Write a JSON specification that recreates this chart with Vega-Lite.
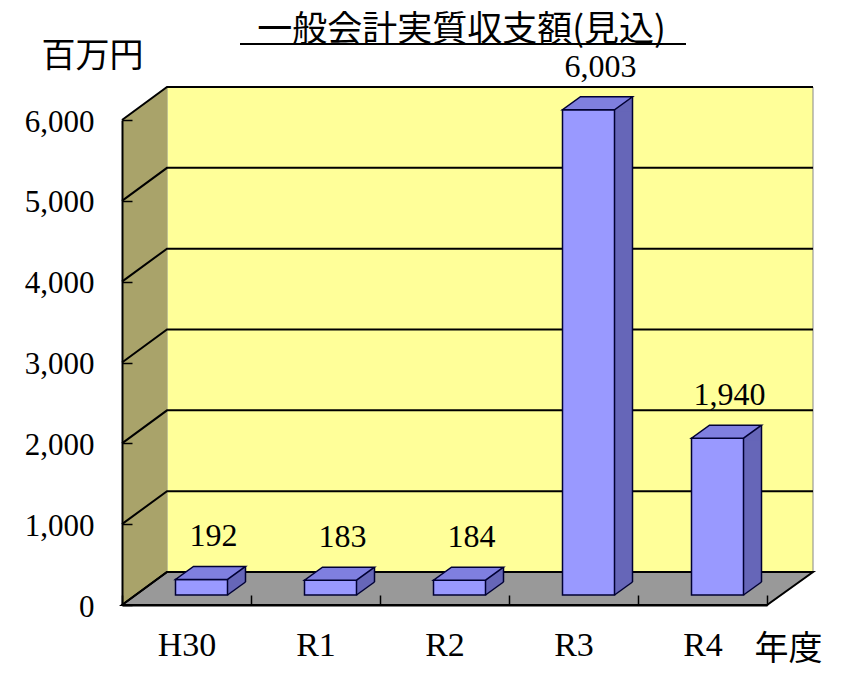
{
  "$schema": "https://vega.github.io/schema/vega-lite/v6.json",
  "autosize": "none",
  "width": 645,
  "height": 485,
  "padding": {"left": 122, "top": 120, "right": 74, "bottom": 68},
  "background": "white",
  "config": {"view": {"stroke": null}},
  "title": {
    "text": "一般会計実質収支額(見込)",
    "font": "Noto Sans CJK JP",
    "fontSize": 35,
    "fontWeight": "normal",
    "color": "black",
    "anchor": "middle",
    "frame": "group",
    "dx": 17,
    "dy": 9,
    "offset": 0
  },
  "datasets": {
    "main": [
      {"year": "H30", "value": 192},
      {"year": "R1", "value": 183},
      {"year": "R2", "value": 184},
      {"year": "R3", "value": 6003},
      {"year": "R4", "value": 1940}
    ],
    "grid": [{"v": 0}, {"v": 1000}, {"v": 2000}, {"v": 3000}, {"v": 4000}, {"v": 5000}, {"v": 6000}],
    "frame": [{"part": "frame"}]
  },
  "layer": [
    {
      "data": {"name": "frame"},
      "mark": {"type": "point", "shape": "M45,-33 L691,-33 L691,-518 L45,-518 Z", "size": 4, "filled": true, "fill": "#FFFF99", "stroke": "#888888", "strokeWidth": 1, "opacity": 1},
      "encoding": {
        "x": {
          "datum": "H30",
          "type": "nominal",
          "bandPosition": 0,
          "scale": {"domain": ["H30", "R1", "R2", "R3", "R4"], "paddingInner": 0, "paddingOuter": 0},
          "axis": {
            "title": "年度",
            "zindex": 1,
            "domainColor": "black",
            "domainWidth": 2,
            "ticks": true,
            "tickBand": "extent",
            "tickSize": -10,
            "tickColor": "black",
            "tickWidth": 1.5,
            "labelAngle": 0,
            "labelFont": "Liberation Serif",
            "labelFontSize": 34,
            "labelColor": "black",
            "labelPadding": 33,
            "labelBaseline": "top",
            "titleFont": "Noto Sans CJK JP",
            "titleFontSize": 34,
            "titleFontWeight": "normal",
            "titleColor": "black",
            "titleX": 666,
            "titleY": 44,
            "titleAlign": "center",
            "titleBaseline": "middle"
          }
        },
        "y": {
          "datum": 0,
          "type": "quantitative",
          "scale": {"domain": [0, 6000], "nice": false},
          "axis": {
            "title": "百万円",
            "zindex": 1,
            "values": [0, 1000, 2000, 3000, 4000, 5000, 6000],
            "format": ",d",
            "grid": false,
            "domainColor": "black",
            "domainWidth": 2,
            "ticks": true,
            "tickSize": -10,
            "tickColor": "black",
            "tickWidth": 1.5,
            "labelFont": "Liberation Serif",
            "labelFontSize": 31,
            "labelColor": "black",
            "labelPadding": 38,
            "labelOffset": 2,
            "titleFont": "Noto Sans CJK JP",
            "titleFontSize": 34,
            "titleFontWeight": "normal",
            "titleColor": "black",
            "titleAngle": 0,
            "titleX": -30,
            "titleY": -64,
            "titleAlign": "center",
            "titleBaseline": "middle"
          }
        }
      }
    },
    {
      "data": {"name": "frame"},
      "mark": {"type": "point", "shape": "M45,-33 L0,0 L0,-485 L45,-518 Z", "size": 4, "filled": true, "fill": "#A9A36A", "strokeWidth": 0, "opacity": 1},
      "encoding": {
        "x": {"datum": "H30", "type": "nominal", "bandPosition": 0},
        "y": {"datum": 0, "type": "quantitative"}
      }
    },
    {
      "data": {"name": "frame"},
      "mark": {"type": "point", "shape": "M0,0 L645,0 L691,-33 L45,-33 Z", "size": 4, "filled": true, "fill": "#999999", "stroke": "black", "strokeWidth": 2, "opacity": 1},
      "encoding": {
        "x": {"datum": "H30", "type": "nominal", "bandPosition": 0},
        "y": {"datum": 0, "type": "quantitative"}
      }
    },
    {
      "data": {"name": "grid"},
      "mark": {"type": "point", "shape": "M0,0 L45,-33 L691,-33", "size": 4, "filled": false, "stroke": "black", "strokeWidth": 2, "opacity": 1},
      "encoding": {
        "x": {"datum": "H30", "type": "nominal", "bandPosition": 0},
        "y": {"field": "v", "type": "quantitative", "title": "百万円"}
      }
    },
    {
      "data": {"name": "main"},
      "mark": {"type": "bar", "width": 18, "xOffset": 50, "yOffset": -10, "y2Offset": -23, "fill": "#6666B8", "strokeWidth": 0},
      "encoding": {
        "x": {"field": "year", "type": "nominal", "title": "年度"},
        "y": {"field": "value", "type": "quantitative", "title": "百万円"},
        "y2": {"datum": 0}
      }
    },
    {
      "data": {"name": "main"},
      "mark": {"type": "point", "shape": "M41,-8 L41,-10 L59,-23 L59,-8 Z", "size": 4, "filled": true, "fill": "#6666B8", "strokeWidth": 0, "opacity": 1},
      "encoding": {
        "x": {"field": "year", "type": "nominal", "title": "年度"},
        "y": {"field": "value", "type": "quantitative", "title": "百万円"}
      }
    },
    {
      "data": {"name": "main"},
      "mark": {"type": "point", "shape": "M41,-25 L41,-10 L59,-23 L59,-25 Z", "size": 4, "filled": true, "fill": "#6666B8", "strokeWidth": 0, "opacity": 1},
      "encoding": {
        "x": {"field": "year", "type": "nominal", "title": "年度"},
        "y": {"datum": 0, "type": "quantitative"}
      }
    },
    {
      "data": {"name": "main"},
      "mark": {"type": "bar", "width": 52, "xOffset": 15, "yOffset": -10, "y2Offset": -10, "fill": "#9999FF", "stroke": "#000033", "strokeWidth": 1.5},
      "encoding": {
        "x": {"field": "year", "type": "nominal", "title": "年度"},
        "y": {"field": "value", "type": "quantitative", "title": "百万円"},
        "y2": {"datum": 0}
      }
    },
    {
      "data": {"name": "main"},
      "mark": {"type": "point", "shape": "M-11,-10 L41,-10 L59,-23 L7,-23 Z", "size": 4, "filled": true, "fill": "#7F7FE0", "stroke": "#000033", "strokeWidth": 1.5, "opacity": 1},
      "encoding": {
        "x": {"field": "year", "type": "nominal", "title": "年度"},
        "y": {"field": "value", "type": "quantitative", "title": "百万円"}
      }
    },
    {
      "data": {"name": "main"},
      "mark": {"type": "rule", "xOffset": 59, "yOffset": -23, "y2Offset": -23, "stroke": "#000033", "strokeWidth": 1.5},
      "encoding": {
        "x": {"field": "year", "type": "nominal", "title": "年度"},
        "y": {"field": "value", "type": "quantitative", "title": "百万円"},
        "y2": {"datum": 0}
      }
    },
    {
      "data": {"name": "main"},
      "mark": {"type": "point", "shape": "M41,-10 L59,-23", "size": 4, "filled": false, "stroke": "#000033", "strokeWidth": 1.5, "opacity": 1},
      "encoding": {
        "x": {"field": "year", "type": "nominal", "title": "年度"},
        "y": {"datum": 0, "type": "quantitative"}
      }
    },
    {
      "data": {"name": "main"},
      "mark": {"type": "text", "xOffset": 27, "yOffset": -53, "font": "Liberation Serif", "fontSize": 32, "color": "black", "baseline": "middle", "align": "center"},
      "encoding": {
        "x": {"field": "year", "type": "nominal", "title": "年度"},
        "y": {"field": "value", "type": "quantitative", "title": "百万円"},
        "text": {"field": "value", "type": "quantitative", "format": ",d"}
      }
    },
    {
      "data": {"name": "frame"},
      "mark": {"type": "rule", "xOffset": 118, "x2Offset": 499.5, "yOffset": -76, "stroke": "black", "strokeWidth": 2},
      "encoding": {
        "x": {"datum": "H30", "type": "nominal", "bandPosition": 0},
        "x2": {"datum": "H30"},
        "y": {"datum": 6000, "type": "quantitative"}
      }
    }
  ]
}
